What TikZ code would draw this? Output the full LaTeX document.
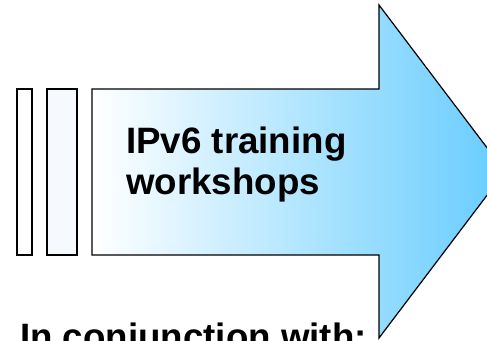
\documentclass[tikz,border=0pt]{standalone}
\usepackage{fontspec}
\setmainfont{Liberation Sans}
\usepackage{xcolor}
\usetikzlibrary{positioning}
\definecolor{skyblue}{HTML}{66CCFF}
\definecolor{paleblue}{HTML}{F6FAFF}
\tikzset{
  outline/.style={draw=black,line width=1.2pt,line join=miter},
  bigtext/.style={font=\fontsize{36.7}{41}\selectfont\bfseries,inner sep=0pt,anchor=base west}
}
\begin{document}
\begin{tikzpicture}[x=1pt,y=-1pt]
    \clip(0,0) rectangle (487,340);
    \fill[white](0,0) rectangle (487,340);
    % bars in front of the arrow
    \draw[outline,fill=white](17,89) rectangle (32,255);
    \draw[outline,fill=paleblue](47,89) rectangle (77,255);
    % the arrow
    \draw[outline,left color=white,right color=skyblue]
      (92,89)--(379,89)--(379,5)--(505,171.5)--(379,338)--(379,255)--(92,255)--cycle;
    \node[bigtext](title) at (126,153) {IPv6 training};
    \node[bigtext](titletwo) at ([yshift=-41pt]title.base west) {workshops};
    \node[bigtext](partners) at (20,349) {In conjunction with:};
  \end{tikzpicture}
\end{document}
